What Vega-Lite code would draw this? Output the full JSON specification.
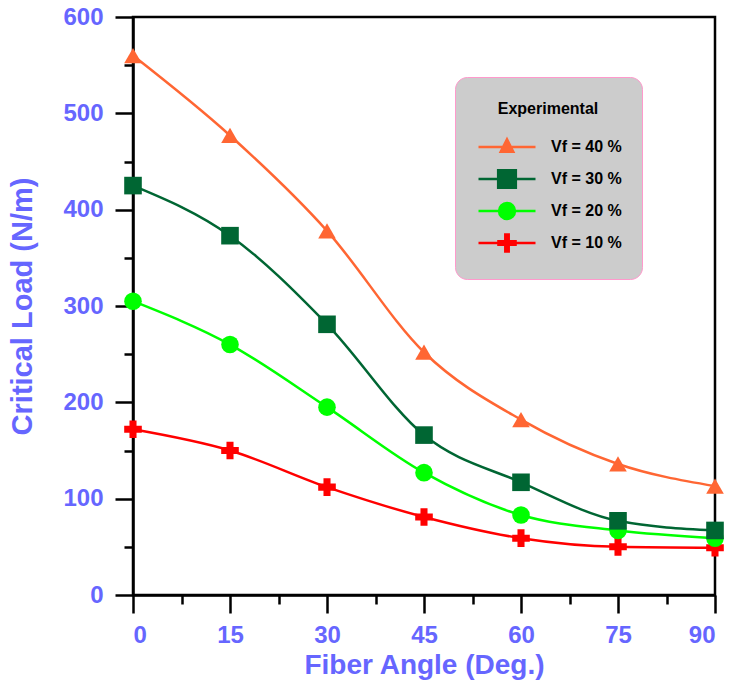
{
  "$schema": "https://vega.github.io/schema/vega-lite/v6.json",
  "width": 582,
  "height": 578,
  "autosize": {"type": "none"},
  "padding": {"left": 133, "top": 17, "right": 16, "bottom": 94},
  "background": "white",
  "config": {
    "font": "Liberation Sans",
    "view": {"stroke": "black", "strokeWidth": 2.5},
    "axis": {
      "grid": false,
      "domainColor": "black",
      "domainWidth": 2.5,
      "tickColor": "black",
      "tickWidth": 2.5,
      "labelFont": "Liberation Sans",
      "labelFontWeight": "bold",
      "labelFontSize": 24,
      "labelColor": "#6666FF",
      "titleFont": "Liberation Sans",
      "titleFontWeight": "bold",
      "titleColor": "#6666FF",
      "titleFontSize": 28
    }
  },
  "data": {
    "values": [
      {"angle": 0, "load": 172, "Series": "Vf = 10 %"},
      {"angle": 15, "load": 150, "Series": "Vf = 10 %"},
      {"angle": 30, "load": 112, "Series": "Vf = 10 %"},
      {"angle": 45, "load": 81, "Series": "Vf = 10 %"},
      {"angle": 60, "load": 59, "Series": "Vf = 10 %"},
      {"angle": 75, "load": 50, "Series": "Vf = 10 %"},
      {"angle": 90, "load": 49, "Series": "Vf = 10 %"},
      {"angle": 0, "load": 305, "Series": "Vf = 20 %"},
      {"angle": 15, "load": 260, "Series": "Vf = 20 %"},
      {"angle": 30, "load": 195, "Series": "Vf = 20 %"},
      {"angle": 45, "load": 127, "Series": "Vf = 20 %"},
      {"angle": 60, "load": 83, "Series": "Vf = 20 %"},
      {"angle": 75, "load": 67, "Series": "Vf = 20 %"},
      {"angle": 90, "load": 59, "Series": "Vf = 20 %"},
      {"angle": 0, "load": 425, "Series": "Vf = 30 %"},
      {"angle": 15, "load": 373, "Series": "Vf = 30 %"},
      {"angle": 30, "load": 281, "Series": "Vf = 30 %"},
      {"angle": 45, "load": 166, "Series": "Vf = 30 %"},
      {"angle": 60, "load": 117, "Series": "Vf = 30 %"},
      {"angle": 75, "load": 77, "Series": "Vf = 30 %"},
      {"angle": 90, "load": 67, "Series": "Vf = 30 %"},
      {"angle": 0, "load": 560, "Series": "Vf = 40 %"},
      {"angle": 15, "load": 477, "Series": "Vf = 40 %"},
      {"angle": 30, "load": 378, "Series": "Vf = 40 %"},
      {"angle": 45, "load": 252, "Series": "Vf = 40 %"},
      {"angle": 60, "load": 182, "Series": "Vf = 40 %"},
      {"angle": 75, "load": 136, "Series": "Vf = 40 %"},
      {"angle": 90, "load": 113, "Series": "Vf = 40 %"}
    ]
  },
  "resolve": {
    "axis": {"x": "independent", "y": "independent"},
    "scale": {"color": "independent", "shape": "independent", "fill": "independent", "stroke": "independent"},
    "legend": {"color": "independent", "shape": "independent", "fill": "independent", "stroke": "independent"}
  },
  "layer": [
    {
      "mark": {"type": "line", "interpolate": "monotone", "strokeWidth": 2.5},
      "encoding": {
        "x": {
          "field": "angle", "type": "quantitative",
          "scale": {"domain": [0, 90], "nice": false, "zero": false},
          "axis": {"orient": "bottom", "values": [0, 15, 30, 45, 60, 75, 90], "tickSize": 18, "labelPadding": 10, "title": "Fiber Angle (Deg.)", "titlePadding": 4}
        },
        "y": {
          "field": "load", "type": "quantitative",
          "scale": {"domain": [0, 600], "nice": false},
          "axis": {"orient": "left", "values": [0, 100, 200, 300, 400, 500, 600], "tickSize": 18, "labelPadding": 12, "title": "Critical Load (N/m)", "titlePadding": 25, "titleFontSize": 29}
        },
        "color": {
          "field": "Series", "type": "nominal",
          "scale": {"domain": ["Vf = 40 %", "Vf = 30 %", "Vf = 20 %", "Vf = 10 %"], "range": ["#FF6633", "#006633", "#00FF00", "#FF0000"]},
          "legend": null
        }
      }
    },
    {
      "mark": {"type": "point", "filled": true, "opacity": 1, "size": 310},
      "encoding": {
        "x": {
          "field": "angle", "type": "quantitative",
          "axis": {"orient": "bottom", "values": [7.5, 22.5, 37.5, 52.5, 67.5, 82.5], "tickSize": 9, "labels": false, "domain": false, "title": null}
        },
        "y": {
          "field": "load", "type": "quantitative",
          "axis": {"orient": "left", "values": [50, 150, 250, 350, 450, 550], "tickSize": 9, "labels": false, "domain": false, "title": null}
        },
        "shape": {
          "field": "Series", "type": "nominal",
          "scale": {"domain": ["Vf = 40 %", "Vf = 30 %", "Vf = 20 %", "Vf = 10 %"], "range": ["triangle-up", "square", "circle", "cross"]},
          "legend": null
        },
        "color": {
          "field": "Series", "type": "nominal",
          "scale": {"domain": ["Vf = 40 %", "Vf = 30 %", "Vf = 20 %", "Vf = 10 %"], "range": ["#FF6633", "#006633", "#00FF00", "#FF0000"]},
          "legend": null
        }
      }
    },
    {
      "mark": {"type": "point", "filled": true, "opacity": 0, "strokeWidth": 2.5},
      "encoding": {
        "x": {"field": "angle", "type": "quantitative", "axis": null},
        "y": {"field": "load", "type": "quantitative", "axis": null},
        "shape": {
          "field": "Series", "type": "nominal",
          "scale": {
            "domain": ["Vf = 40 %", "Vf = 30 %", "Vf = 20 %", "Vf = 10 %"],
            "range": [
              "M-1,0H1M0,-0.27L0.22,0.17L-0.22,0.17ZM-0.035,-0.2H0.035M-0.0675,-0.135H0.0675M-0.1,-0.07H0.1M-0.165,0.06H0.165M-0.1925,0.115H0.1925",
              "M-1,0H1M-0.31,-0.31H0.31V0.31H-0.31ZM-0.31,-0.26H0.31M-0.31,-0.195H0.31M-0.31,-0.13H0.31M-0.31,-0.065H0.31M-0.31,0.065H0.31M-0.31,0.13H0.31M-0.31,0.195H0.31M-0.31,0.26H0.31",
              "M-1,0H1M0.28,0A0.28,0.28,0,1,1,-0.28,0A0.28,0.28,0,1,1,0.28,0ZM-0.2724,-0.065H0.2724M-0.2724,0.065H0.2724M-0.248,-0.13H0.248M-0.248,0.13H0.248M-0.201,-0.195H0.201M-0.201,0.195H0.201M-0.1356,-0.245H0.1356M-0.1356,0.245H0.1356",
              "M-1,0H1M-0.06,-0.3H0.06V-0.06H0.3V0.06H0.06V0.3H-0.06V0.06H-0.3V-0.06H-0.06ZM0,-0.3V0.3"
            ]
          }
        },
        "fill": {
          "field": "Series", "type": "nominal",
          "scale": {"domain": ["Vf = 40 %", "Vf = 30 %", "Vf = 20 %", "Vf = 10 %"], "range": ["#FF6633", "#006633", "#00FF00", "#FF0000"]},
          "legend": {
            "title": "Experimental",
            "orient": "none",
            "legendX": 322,
            "legendY": 60,
            "padding": 20,
            "symbolOffset": 2,
            "labelOffset": 14,
            "clipHeight": 32,
            "rowPadding": 0,
            "titlePadding": 18,
            "symbolSize": 3249,
            "symbolOpacity": 1,
            "symbolStrokeWidth": 2.5,
            "fillColor": "#CCCCCC",
            "strokeColor": "#FF99CC",
            "cornerRadius": 12,
            "titleFont": "Liberation Sans",
            "titleFontSize": 16,
            "titleFontWeight": "bold",
            "titleColor": "black",
            "titleAnchor": "middle",
            "titleAlign": "center",
            "titleBaseline": "line-top",
            "titleLineHeight": 24,
            "labelFont": "Liberation Sans",
            "labelFontSize": 16,
            "labelFontWeight": "bold",
            "labelColor": "black"
          }
        },
        "stroke": {
          "field": "Series", "type": "nominal",
          "scale": {"domain": ["Vf = 40 %", "Vf = 30 %", "Vf = 20 %", "Vf = 10 %"], "range": ["#FF6633", "#006633", "#00FF00", "#FF0000"]}
        }
      }
    }
  ]
}
